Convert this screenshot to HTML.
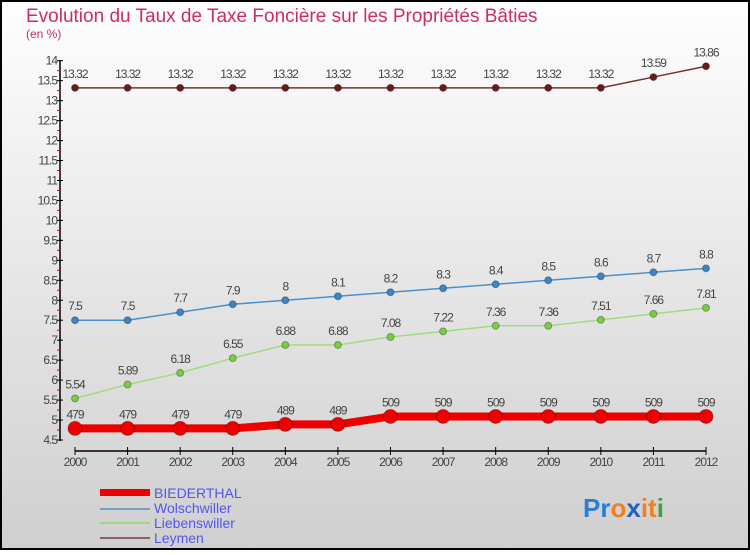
<!DOCTYPE html>
<html><head><meta charset="utf-8"><style>
html,body{margin:0;padding:0}
body{width:750px;height:550px;overflow:hidden;font-family:"Liberation Sans",sans-serif}
</style></head><body>
<svg id="chart" width="750" height="550" xmlns="http://www.w3.org/2000/svg">
<defs><linearGradient id="bg" x1="0" y1="0" x2="0" y2="1"><stop offset="0" stop-color="#fefefe"/><stop offset="1" stop-color="#cfcfcf"/></linearGradient></defs>
<rect x="1" y="1" width="748" height="548" fill="url(#bg)" stroke="#000" stroke-width="2"/>
<text x="26" y="22" font-size="19" fill="#cc2e5e">Evolution du Taux de Taxe Foncière sur les Propriétés Bâties</text>
<text x="26" y="38" font-size="12" fill="#cc2e5e">(en %)</text>
<g id="axes"></g><g id="series"></g>
<g>
<rect x="100" y="489" width="50" height="7" fill="#e00"/>
<text x="154" y="498" font-size="14" fill="#5555ee">BIEDERTHAL</text>
<rect x="100" y="508" width="50" height="2" fill="#6fa0c8"/>
<text x="154" y="513" font-size="14" fill="#5555ee">Wolschwiller</text>
<rect x="100" y="522" width="50" height="2" fill="#9fd880"/>
<text x="154" y="528" font-size="14" fill="#5555ee">Liebenswiller</text>
<rect x="100" y="537" width="50" height="2" fill="#8b6060"/>
<text x="154" y="543" font-size="14" fill="#5555ee">Leymen</text>
</g>
<text x="583" y="517" font-size="26" font-weight="bold"><tspan fill="#2a7fd0">Pr</tspan><tspan fill="#f08020">o</tspan><tspan fill="#2060c0">x</tspan><tspan fill="#f08020">it</tspan><tspan fill="#40a040">i</tspan></text>
</svg>
<script>
const years=[2000,2001,2002,2003,2004,2005,2006,2007,2008,2009,2010,2011,2012];
const biederthal=[4.79,4.79,4.79,4.79,4.89,4.89,5.09,5.09,5.09,5.09,5.09,5.09,5.09];
const biederthalLabels=["479","479","479","479","489","489","509","509","509","509","509","509","509"];
const wolschwiller=[7.5,7.5,7.7,7.9,8,8.1,8.2,8.3,8.4,8.5,8.6,8.7,8.8];
const liebenswiller=[5.54,5.89,6.18,6.55,6.88,6.88,7.08,7.22,7.36,7.36,7.51,7.66,7.81];
const leymen=[13.32,13.32,13.32,13.32,13.32,13.32,13.32,13.32,13.32,13.32,13.32,13.59,13.86];
const yTicks=[4.5,5,5.5,6,6.5,7,7.5,8,8.5,9,9.5,10,10.5,11,11.5,12,12.5,13,13.5,14];
const NS="http://www.w3.org/2000/svg";
const X=i=>75+i*(706-75)/(years.length-1);
const Y=v=>440-(v-4.5)*(440-60.7)/9.5;
function mk(p,t,a){const e=document.createElementNS(NS,t);for(const k in a)e.setAttribute(k,a[k]);p.appendChild(e);return e;}
const ax=document.getElementById('axes');
let l=mk(ax,'line',{x1:60,y1:60,x2:60,y2:441,stroke:'#000','stroke-width':1.5});


yTicks.forEach(v=>{
 const y=Y(v);
 mk(ax,'line',{x1:57,y1:y,x2:63,y2:y,stroke:'#000'});
 const t=mk(ax,'text',{x:57,y:y+4,'font-size':12,fill:'#444','text-anchor':'end','letter-spacing':'-1'});
 t.textContent=String(v);
 
 
 const ym=Y(v+0.25);
 if(v<14) mk(ax,'line',{x1:57,y1:ym,x2:60,y2:ym,stroke:'#e00'});
});
l=mk(ax,'line',{x1:75,y1:451,x2:706,y2:451,stroke:'#000','stroke-width':1.5});


years.forEach((yr,i)=>{
 mk(ax,'line',{x1:X(i),y1:447,x2:X(i),y2:455,stroke:'#000'});
 const t=mk(ax,'text',{x:X(i),y:466,'font-size':12,fill:'#444','text-anchor':'middle','letter-spacing':'-1'});
 t.textContent=yr;
 
 
});
const sg=document.getElementById('series');
function series(name,vals,labels,color,fill,w,r){
 const g=mk(sg,'g',{});
 
 
 const p=mk(g,'polyline',{points:vals.map((v,i)=>X(i)+','+Y(v)).join(' '),fill:'none',stroke:color,'stroke-width':w});
 
 
 vals.forEach((v,i)=>{
  const c=mk(g,'circle',{cx:X(i),cy:Y(v),r:r,fill:fill,stroke:'rgba(0,0,0,0.3)','stroke-width':1});
  
  
  const t=mk(g,'text',{x:X(i),y:Y(v)-10,'font-size':12,fill:'#444','text-anchor':'middle','letter-spacing':'-1'});
  t.textContent=labels?labels[i]:String(v);
  
  
 });
}
series('leymen',leymen,null,'#7a3030','#6a1a1a',1.5,3.5);
series('wolschwiller',wolschwiller,null,'#4a90d0','#3a86c8',1.5,3.5);
series('liebenswiller',liebenswiller,null,'#a0dc80','#7acc40',1.5,3.5);
series('biederthal',biederthal,biederthalLabels,'#ee0000','#ee0000',8,7);
</script>
</body></html>
